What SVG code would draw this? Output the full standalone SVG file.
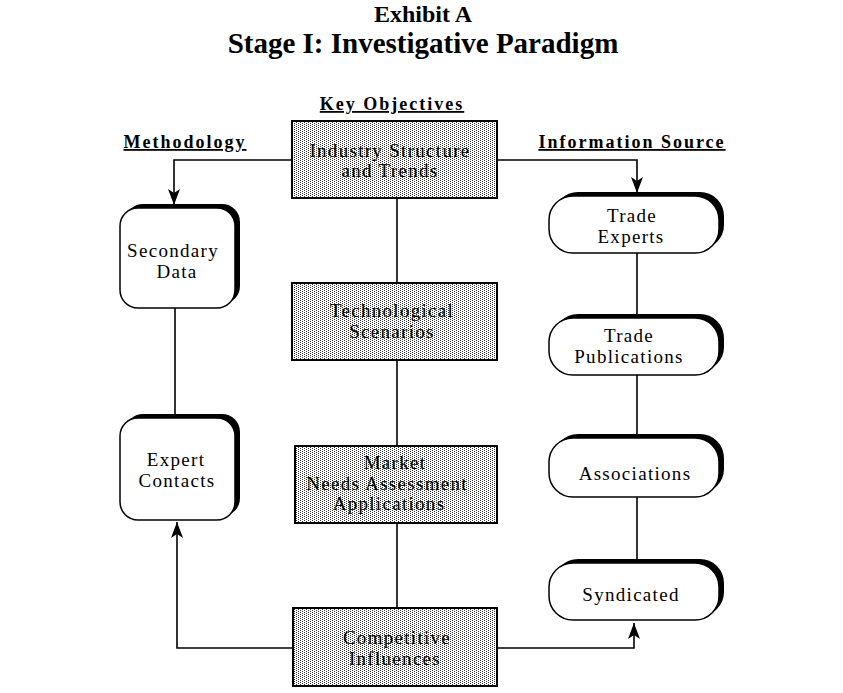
<svg xmlns="http://www.w3.org/2000/svg" width="843" height="693" viewBox="0 0 843 693">
<defs>
<pattern id="dots" width="4" height="2" patternUnits="userSpaceOnUse">
<rect width="4" height="2" fill="#fff"/>
<rect x="0" y="0" width="1" height="1" fill="#333"/>
<rect x="2" y="1" width="1" height="1" fill="#333"/>
</pattern>
<marker id="ahb" viewBox="0 0 16 12" refX="16" refY="6" markerWidth="16" markerHeight="12" markerUnits="userSpaceOnUse" orient="auto">
<path d="M0,0 L16,6 L0,12 L4,6 Z" fill="#000"/>
</marker>
</defs>
<style>
text{font-family:"Liberation Serif","Times New Roman",serif;fill:#000}
.t{font-size:19px;text-anchor:middle;letter-spacing:1.3px}
.h{font-size:18px;font-weight:bold;text-decoration:underline;letter-spacing:2px;text-anchor:middle}
.box{fill:url(#dots);stroke:#000;stroke-width:2}
.sh{fill:#000}
.rb{fill:#fff;stroke:#000;stroke-width:1.5}
.c{fill:none;stroke:#000;stroke-width:1.6}
</style>
<rect width="843" height="693" fill="#fff"/>
<text x="423" y="22" style="font-size:24px;font-weight:bold;text-anchor:middle">Exhibit A</text>
<text x="423" y="53" style="font-size:29px;font-weight:bold;text-anchor:middle">Stage I: Investigative Paradigm</text>
<text class="h" x="392" y="110">Key Objectives</text>
<text class="h" x="185" y="148">Methodology</text>
<text class="h" x="632" y="148">Information Source</text>

<g id="connectors">
<line class="c" x1="397" y1="198" x2="397" y2="283"/>
<line class="c" x1="397" y1="360" x2="397" y2="446"/>
<line class="c" x1="397" y1="523" x2="397" y2="608"/>
<line class="c" x1="175" y1="308" x2="175" y2="418"/>
<line class="c" x1="637" y1="253" x2="637" y2="318"/>
<line class="c" x1="637" y1="375" x2="637" y2="438"/>
<line class="c" x1="637" y1="497" x2="637" y2="563"/>
<polyline class="c" points="292,160 174,160 174,205" marker-end="url(#ahb)"/>
<polyline class="c" points="497,160 637,160 637,193" marker-end="url(#ahb)"/>
<polyline class="c" points="293,648 177,648 177,522" marker-end="url(#ahb)"/>
<polyline class="c" points="497,648 634,648 634,623" marker-end="url(#ahb)"/>
</g>

<g id="industry">
<rect class="box" x="292" y="121" width="205" height="77"/>
<text class="t" x="390" y="157">Industry Structure</text>
<text class="t" x="390" y="177">and Trends</text>
</g>
<g id="technological">
<rect class="box" x="292" y="283" width="205" height="77"/>
<text class="t" x="392" y="317">Technological</text>
<text class="t" x="392" y="338">Scenarios</text>
</g>
<g id="market">
<rect class="box" x="295" y="446" width="202" height="77"/>
<text class="t" x="395" y="469">Market</text>
<text class="t" x="387" y="490">Needs Assessment</text>
<text class="t" x="389" y="510">Applications</text>
</g>
<g id="competitive">
<rect class="box" x="293" y="608" width="204" height="78"/>
<text class="t" x="397" y="644">Competitive</text>
<text class="t" x="395" y="665">Influences</text>
</g>

<g id="secondary">
<rect class="sh" x="125" y="204" width="115" height="100" rx="18"/>
<rect class="rb" x="120" y="208" width="115" height="100" rx="18"/>
<text class="t" x="173" y="257">Secondary</text>
<text class="t" x="177" y="278">Data</text>
</g>
<g id="expert">
<rect class="sh" x="125" y="414" width="115" height="102" rx="18"/>
<rect class="rb" x="120" y="418" width="115" height="102" rx="18"/>
<text class="t" x="176" y="466">Expert</text>
<text class="t" x="177" y="487">Contacts</text>
</g>

<g id="trade-experts">
<rect class="sh" x="554" y="192" width="170" height="57" rx="24"/>
<rect class="rb" x="549" y="196" width="170" height="57" rx="24"/>
<text class="t" x="632" y="222">Trade</text>
<text class="t" x="631" y="243">Experts</text>
</g>
<g id="trade-publications">
<rect class="sh" x="554" y="314" width="170" height="57" rx="24"/>
<rect class="rb" x="549" y="318" width="170" height="57" rx="24"/>
<text class="t" x="629" y="342">Trade</text>
<text class="t" x="629" y="363">Publications</text>
</g>
<g id="associations">
<rect class="sh" x="554" y="434" width="170" height="59" rx="24"/>
<rect class="rb" x="549" y="438" width="170" height="59" rx="24"/>
<text class="t" x="635" y="480">Associations</text>
</g>
<g id="syndicated">
<rect class="sh" x="554" y="559" width="170" height="57" rx="24"/>
<rect class="rb" x="549" y="563" width="170" height="57" rx="24"/>
<text class="t" x="631" y="601">Syndicated</text>
</g>
</svg>
